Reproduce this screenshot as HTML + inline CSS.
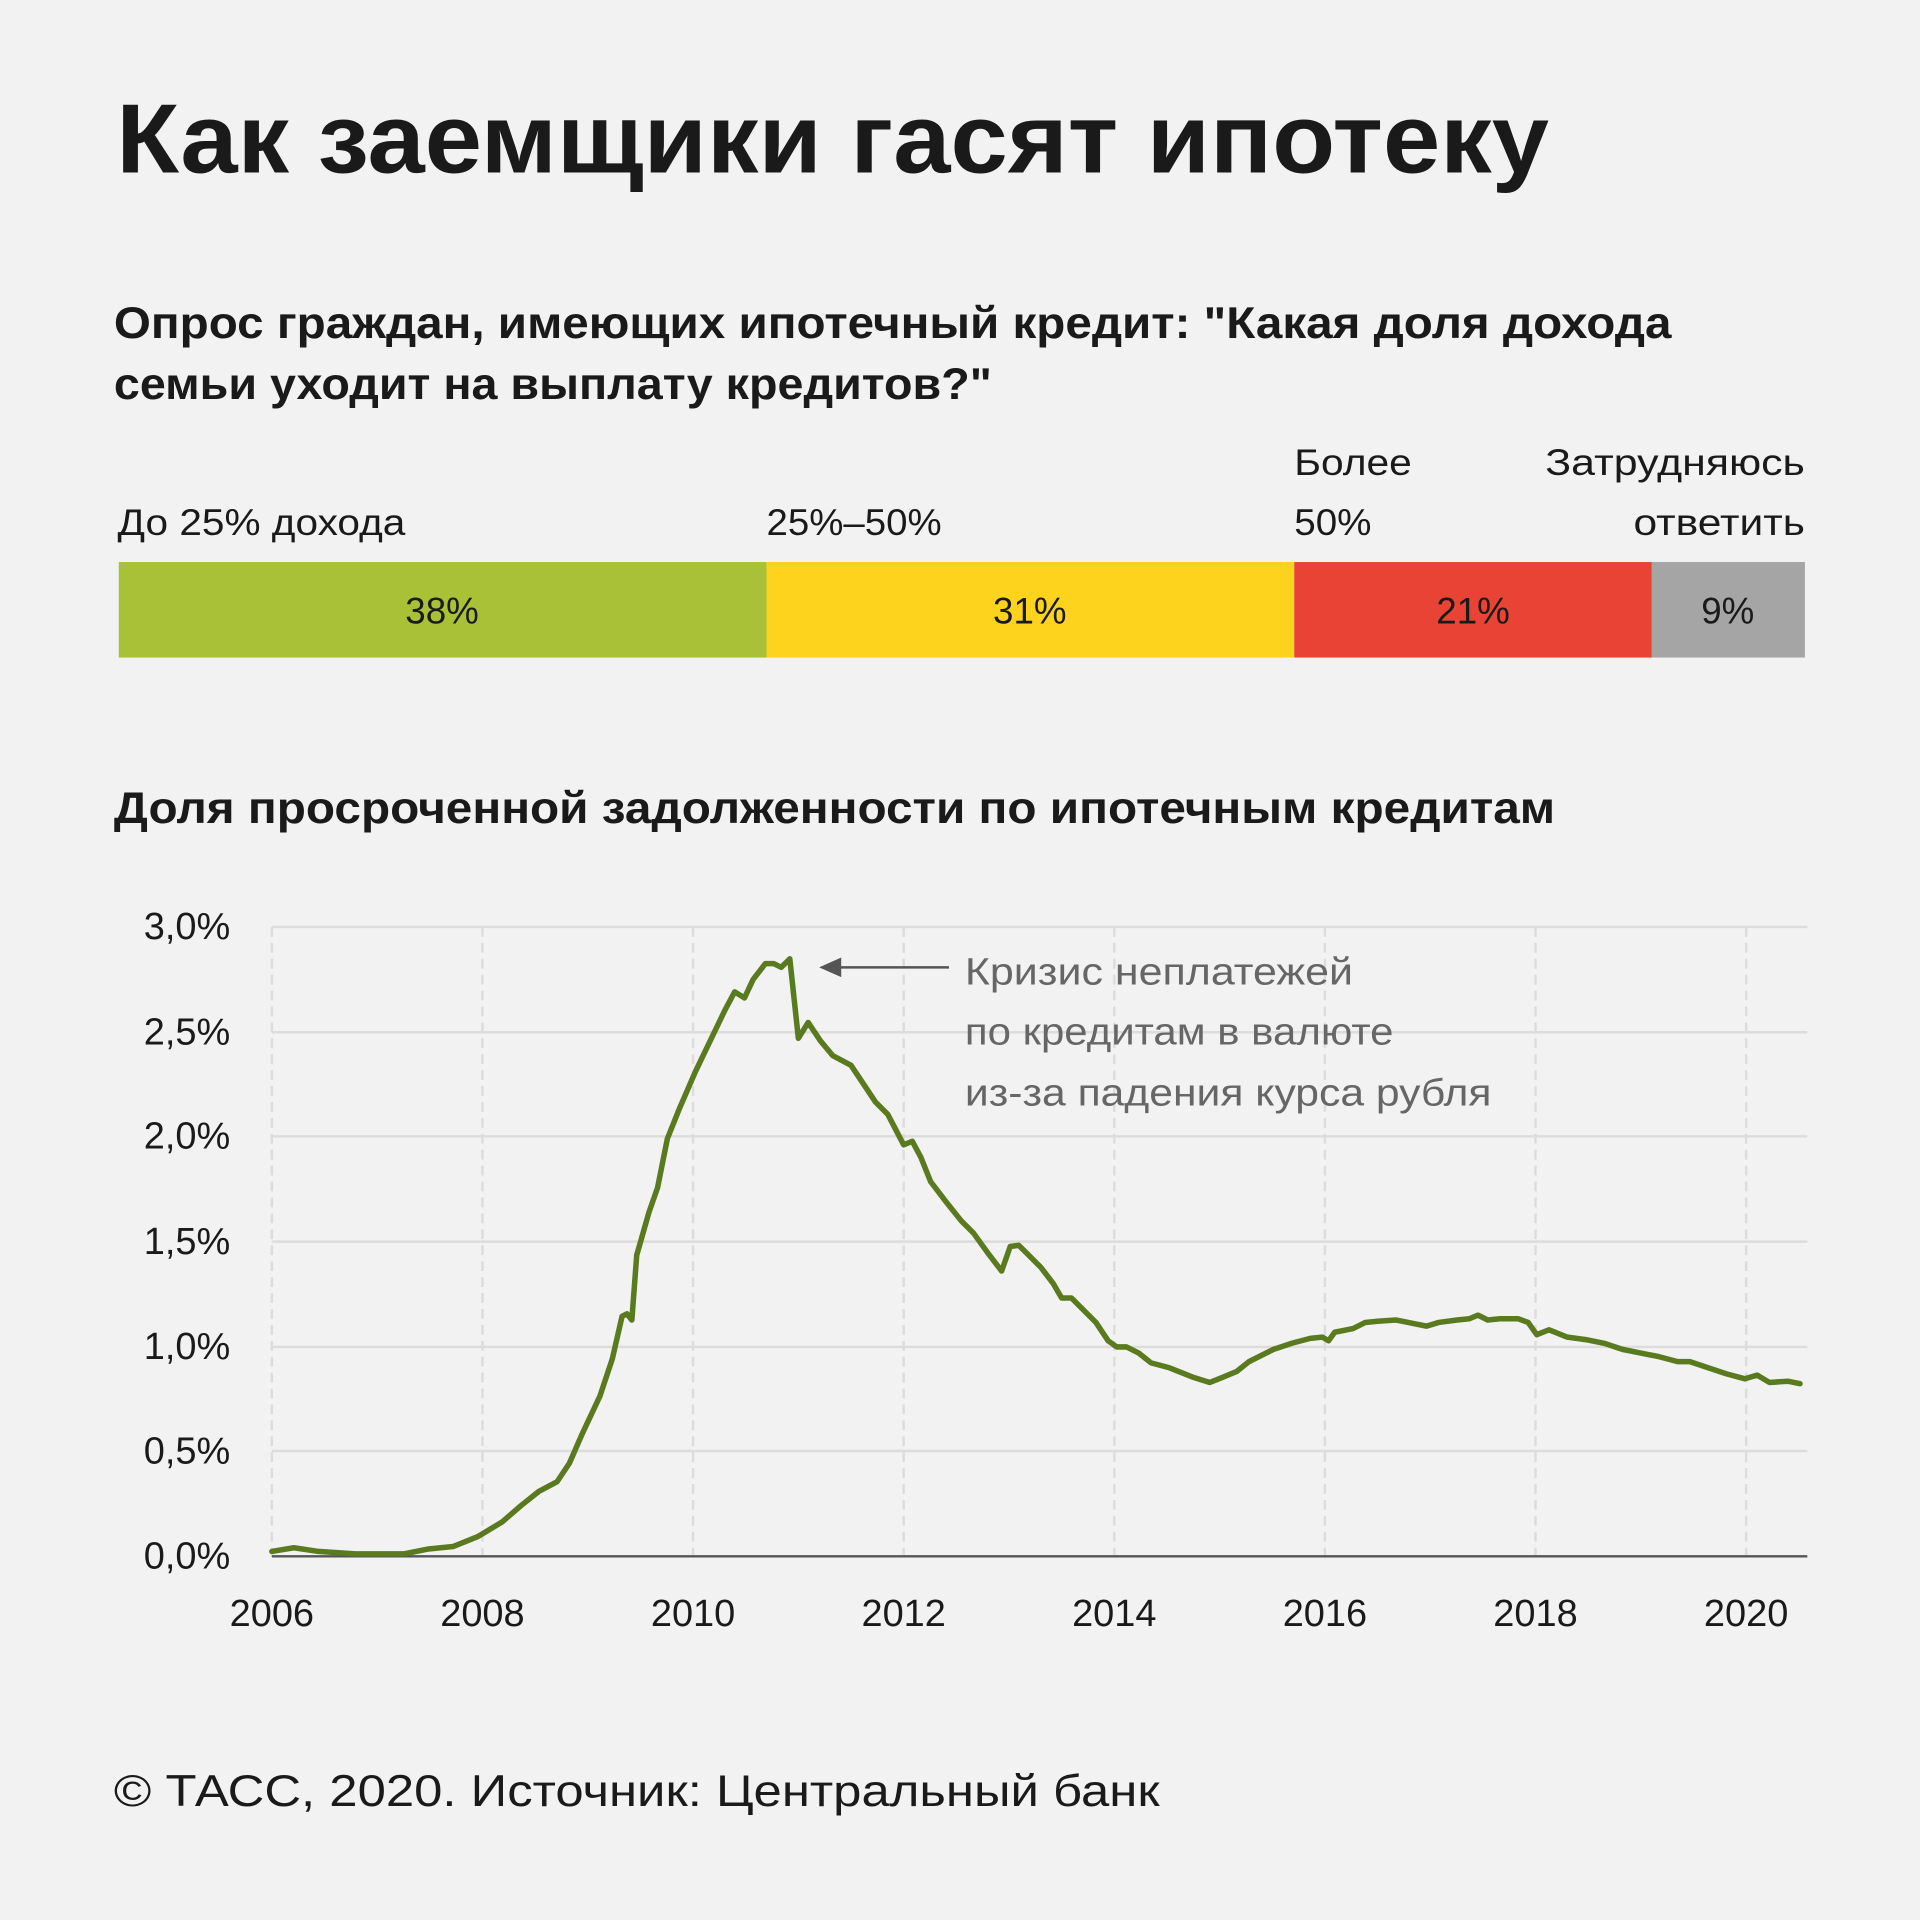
<!DOCTYPE html>
<html><head><meta charset="utf-8"><style>
html,body{margin:0;padding:0;background:#f2f2f2;}
svg{display:block}
text{font-family:"Liberation Sans",sans-serif;}
</style></head><body>
<svg width="1920" height="1920" viewBox="0 0 1568 1568" xmlns="http://www.w3.org/2000/svg">
<rect width="1568" height="1568" fill="#f2f2f2"/>
<text x="95" y="141" font-size="80" fill="#1a1a1a" font-weight="600" textLength="1170" lengthAdjust="spacingAndGlyphs">Как заемщики гасят ипотеку</text>
<text x="93" y="276" font-size="36" font-weight="bold" fill="#1a1a1a" textLength="1272" lengthAdjust="spacingAndGlyphs">Опрос граждан, имеющих ипотечный кредит: "Какая доля дохода</text>
<text x="93" y="326" font-size="36" font-weight="bold" fill="#1a1a1a" textLength="717" lengthAdjust="spacingAndGlyphs">семьи уходит на выплату кредитов?"</text>
<g font-size="30" fill="#1a1a1a">
<text x="96" y="437" textLength="235" lengthAdjust="spacingAndGlyphs">До 25% дохода</text>
<text x="626" y="437" textLength="143" lengthAdjust="spacingAndGlyphs">25%–50%</text>
<text x="1057" y="388" textLength="96" lengthAdjust="spacingAndGlyphs">Более</text>
<text x="1057" y="437" textLength="63" lengthAdjust="spacingAndGlyphs">50%</text>
<text x="1262" y="388" textLength="212" lengthAdjust="spacingAndGlyphs">Затрудняюсь</text>
<text x="1334" y="437" textLength="140" lengthAdjust="spacingAndGlyphs">ответить</text>
</g>
<rect x="97" y="459" width="529" height="78" fill="#a8c136"/>
<rect x="626" y="459" width="431" height="78" fill="#fdd31e"/>
<rect x="1057" y="459" width="292" height="78" fill="#e84335"/>
<rect x="1349" y="459" width="125" height="78" fill="#a5a5a5"/>
<g font-size="30" fill="#1a1a1a" text-anchor="middle">
<text x="361" y="509">38%</text>
<text x="841" y="509">31%</text>
<text x="1203" y="509">21%</text>
<text x="1411" y="509">9%</text>
</g>
<text x="93" y="672" font-size="36" font-weight="bold" fill="#1a1a1a" textLength="1177" lengthAdjust="spacingAndGlyphs">Доля просроченной задолженности по ипотечным кредитам</text>
<g stroke="#dcdcdc" stroke-width="2">
<line x1="222" y1="757" x2="1476" y2="757"/>
<line x1="222" y1="843" x2="1476" y2="843"/>
<line x1="222" y1="928" x2="1476" y2="928"/>
<line x1="222" y1="1014" x2="1476" y2="1014"/>
<line x1="222" y1="1100" x2="1476" y2="1100"/>
<line x1="222" y1="1185" x2="1476" y2="1185"/>
</g>
<g stroke="#dcdcdc" stroke-width="2" stroke-dasharray="8,5">
<line x1="222" y1="757" x2="222" y2="1271"/>
<line x1="394" y1="757" x2="394" y2="1271"/>
<line x1="566" y1="757" x2="566" y2="1271"/>
<line x1="738" y1="757" x2="738" y2="1271"/>
<line x1="910" y1="757" x2="910" y2="1271"/>
<line x1="1082" y1="757" x2="1082" y2="1271"/>
<line x1="1254" y1="757" x2="1254" y2="1271"/>
<line x1="1426" y1="757" x2="1426" y2="1271"/>
</g>
<line x1="222" y1="1271" x2="1476" y2="1271" stroke="#555" stroke-width="2"/>
<g font-size="31" fill="#1a1a1a" text-anchor="end">
<text x="188" y="767">3,0%</text>
<text x="188" y="853">2,5%</text>
<text x="188" y="938">2,0%</text>
<text x="188" y="1024">1,5%</text>
<text x="188" y="1110">1,0%</text>
<text x="188" y="1195">0,5%</text>
<text x="188" y="1281">0,0%</text>
</g>
<g font-size="31" fill="#1a1a1a" text-anchor="middle">
<text x="222" y="1328">2006</text><text x="394" y="1328">2008</text><text x="566" y="1328">2010</text><text x="738" y="1328">2012</text>
<text x="910" y="1328">2014</text><text x="1082" y="1328">2016</text><text x="1254" y="1328">2018</text><text x="1426" y="1328">2020</text>
</g>
<polyline fill="none" stroke="#5a7a1f" stroke-width="4.5" stroke-linejoin="round" stroke-linecap="round" points="222,1267 240,1264 260,1267 290,1269 330,1269 350,1265 370,1263 390,1255 410,1243 425,1230 440,1218 455,1210 465,1195 475,1172 490,1140 500,1110 508,1075 512,1073 516,1078 520,1025 530,990 537,970 545,930 555,905 568,875 580,850 592,825 600,810 608,815 615,800 625,787 632,787 638,790 645,783 652,848 660,835 670,850 680,862 695,870 705,885 715,900 725,910 738,935 745,932 752,945 760,965 773,982 785,997 795,1007 808,1025 818,1038 825,1018 832,1017 840,1025 850,1035 860,1048 867,1060 875,1060 885,1070 895,1080 905,1095 912,1100 920,1100 930,1105 940,1113 955,1117 965,1121 975,1125 988,1129 998,1125 1010,1120 1020,1112 1030,1107 1040,1102 1055,1097 1070,1093 1080,1092 1085,1095 1090,1088 1105,1085 1115,1080 1125,1079 1140,1078 1155,1081 1165,1083 1175,1080 1190,1078 1200,1077 1207,1074 1215,1078 1225,1077 1240,1077 1248,1080 1255,1090 1265,1086 1280,1092 1295,1094 1310,1097 1325,1102 1340,1105 1355,1108 1370,1112 1380,1112 1395,1117 1410,1122 1425,1126 1435,1123 1445,1129 1460,1128 1470,1130"/>
<line x1="685" y1="790" x2="775" y2="790" stroke="#555" stroke-width="2"/>
<polygon points="669,790 687,782 687,798" fill="#555"/>
<g font-size="31" fill="#666">
<text x="788" y="804" textLength="317" lengthAdjust="spacingAndGlyphs">Кризис неплатежей</text>
<text x="788" y="853" textLength="350" lengthAdjust="spacingAndGlyphs">по кредитам в валюте</text>
<text x="788" y="903" textLength="430" lengthAdjust="spacingAndGlyphs">из-за падения курса рубля</text>
</g>
<text x="93" y="1475" font-size="36" fill="#1a1a1a" textLength="854" lengthAdjust="spacingAndGlyphs">© ТАСС, 2020. Источник: Центральный банк</text>
</svg>
</body></html>
